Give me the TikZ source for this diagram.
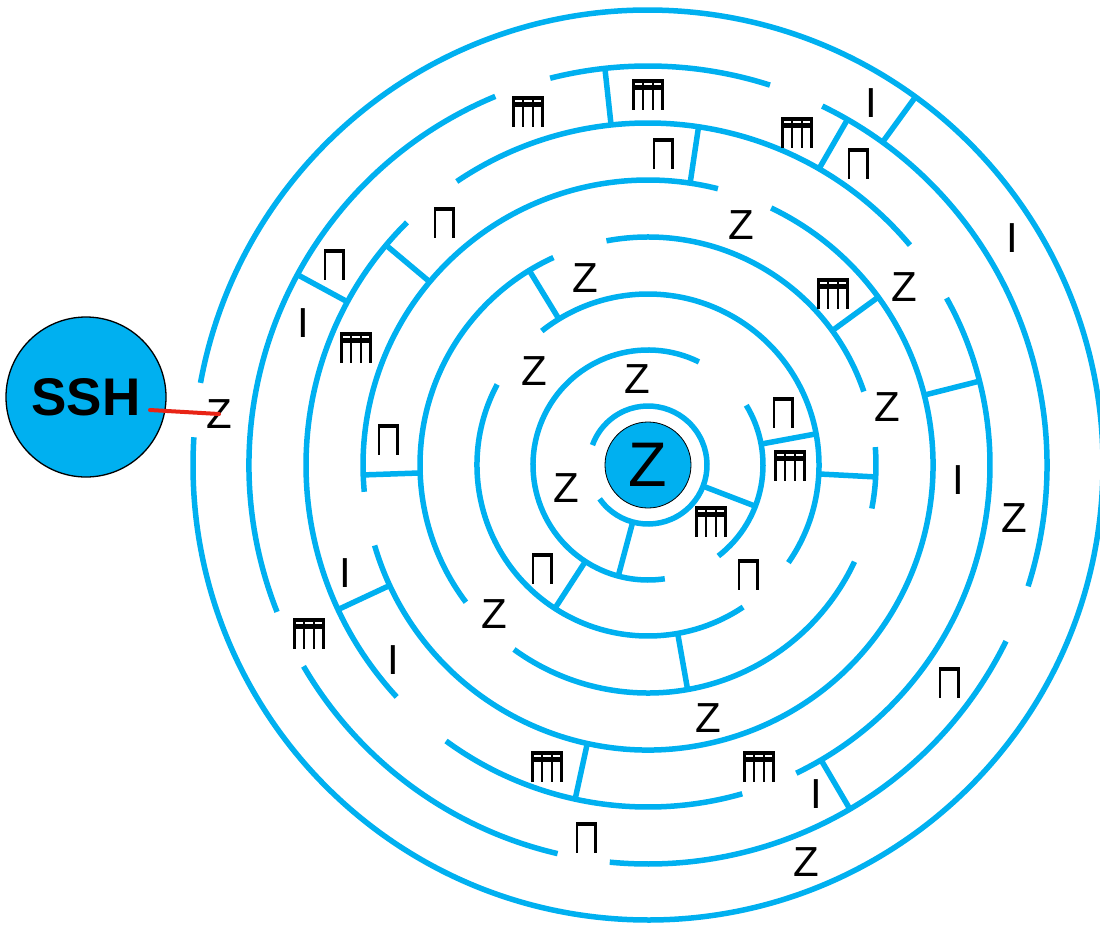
\documentclass[tikz,border=0pt]{standalone}
\usepackage{fontspec}
\setmainfont{Liberation Sans}
\definecolor{maze}{RGB}{0,176,240}
\definecolor{link}{RGB}{232,36,22}
\tikzset{
  wall/.style={draw=maze, line width=5.5pt},
  lbl/.style={inner sep=0pt, font=\fontsize{42}{42}\selectfont},
  gatesym/.pic={
    \fill[black] (-10.5,15.5) rectangle (10.5,11);
    \fill[black] (-10.5,11) rectangle (-8.1,-15.5);
    \fill[black] (8.1,11) rectangle (10.5,-15.5);
  },
  trisym/.pic={
    \fill[black] (-16,15.5) rectangle (16,11.5);
    \fill[black] (-16,8.8) rectangle (16,3.8);
    \foreach \lx in {-16,-6.2,3.6,13.4} \fill[black] (\lx,15.5) rectangle ++(2.6,-31);
  },
  bigdisc/.style={circle, fill=maze, draw=black, inner sep=0pt}
}
\begin{document}
\begin{tikzpicture}[x=1pt,y=1pt]
\useasboundingbox (0,0) rectangle (1100,-924);
\fill[white] (0,0) rectangle (1100,-924);
\begin{scope}[shift={(648,-465)}]
  % rings
  \foreach \a/\b in {176.5/529.6}
    \draw[wall] (\a:455pt) arc[start angle=\a, end angle=\b, radius=455pt];
  \foreach \a/\b in {72.2/104.2,112.5/201.6,210.3/256.9,264.5/333.8,342.3/424.1}
    \draw[wall] (\a:399pt) arc[start angle=\a, end angle=\b, radius=399pt];
  \foreach \a/\b in {40/124,134.8/222.7,233.8/286,295.7/389.2}
    \draw[wall] (\a:342pt) arc[start angle=\a, end angle=\b, radius=342pt];
  \foreach \a/\b in {75.8/185.4,196.4/424.4}
    \draw[wall] (\a:285pt) arc[start angle=\a, end angle=\b, radius=285pt];
  \foreach \a/\b in {-11/4.5,18.8/100.5,114.5/217,234/334.9}
    \draw[wall] (\a:228pt) arc[start angle=\a, end angle=\b, radius=228pt];
  \foreach \a/\b in {151.9/303.8,325.2/488.4}
    \draw[wall] (\a:171pt) arc[start angle=\a, end angle=\b, radius=171pt];
  \foreach \a/\b in {63.7/278.4,307.7/391.3}
    \draw[wall] (\a:115pt) arc[start angle=\a, end angle=\b, radius=115pt];
  \foreach \a/\b in {215/520.3}
    \draw[wall] (\a:59pt) arc[start angle=\a, end angle=\b, radius=59pt];
  % radial walls
  \foreach \a/\ri/\ro in {54/399/455, 60/342/399, 96.2/342/399, 151.5/342/399,
      300.4/342/399, 14.2/285/342, 81.5/285/342, 140/285/342, 205/285/342,
      257.7/285/342, 36.1/228/285, 182/228/285, 121.4/171/228, 280/171/228,
      357/171/228, 10.5/115/171, 237/115/171, 255/59/115, 339/59/115}
    \draw[wall] (\a:\ri pt) -- (\a:\ro pt);
\end{scope}
% core
\node[bigdisc, minimum size=86pt, line width=0.8pt, font=\fontsize{63}{63}\selectfont] (core) at (648,-465) {Z};
% labels Z
\foreach \x/\y [count=\n] in {219/414,741/225,585/278,904/287,534/371,637/379,887/407,
    566/488,1014/518,494/614,708/718,806/862}
  \node[lbl] (z\n) at (\x,-\y) {Z};
% labels I
\foreach \x/\y [count=\n] in {871/103,1012/238,303/323,958/480,345/573,393/660,816/794}
  \node[lbl] (i\n) at (\x,-\y) {I};
% gate symbols
\foreach \x/\y in {663/153,858/163,444/222,334/264,388/439,783/412,542/568,748/574,949/682,586/837}
  \pic at (\x,-\y) {gatesym};
\foreach \x/\y in {528/111,648/94,797/132,356/347,833/293,790/465,711/521,309/633,547/766,759/766}
  \pic at (\x,-\y) {trisym};
% SSH
\node[bigdisc, minimum size=160pt, line width=1.3pt, font=\bfseries\fontsize{53}{53}\selectfont] (ssh) at (86,-397) {SSH};
\coordinate (linkA) at (150,-410);
\draw[link, line width=4pt, line cap=round] (linkA) -- (z1.center);
\end{tikzpicture}
\end{document}
